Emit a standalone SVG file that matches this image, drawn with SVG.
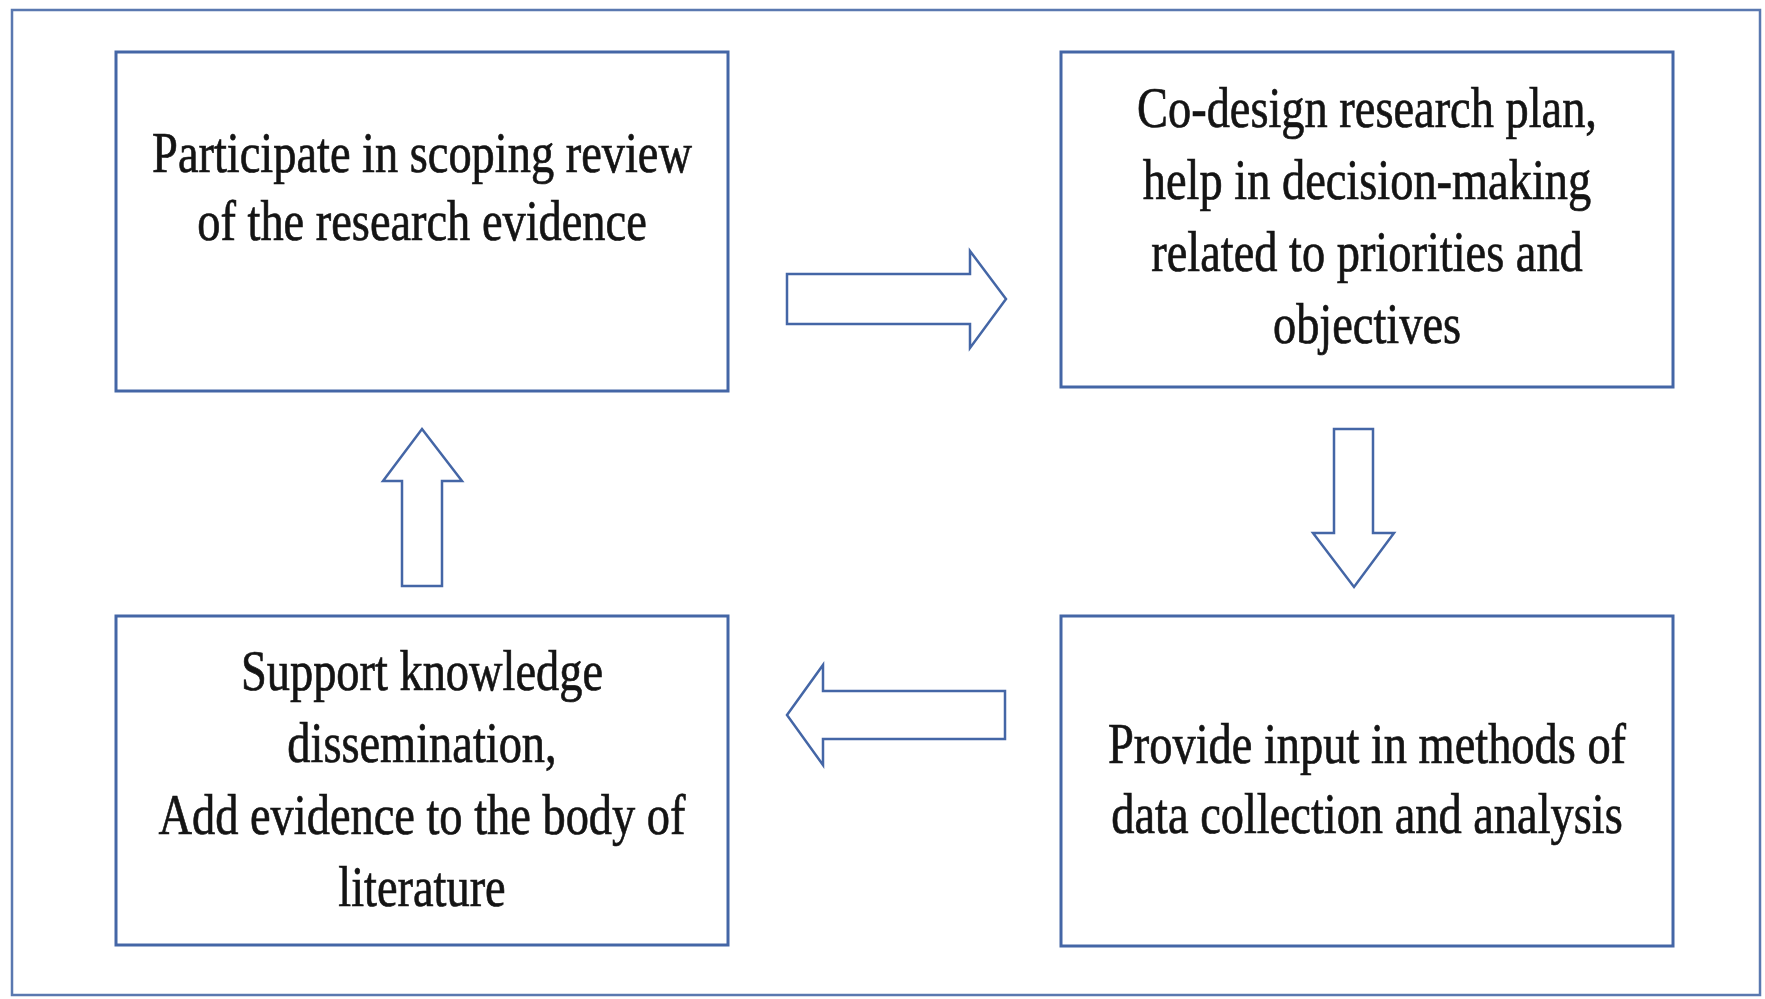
<svg xmlns="http://www.w3.org/2000/svg" width="1765" height="999" viewBox="0 0 1765 999">
<style>
.frame{fill:#ffffff;stroke:#5a78b0;stroke-width:2.5}
.box{fill:#ffffff;stroke:#4466a6;stroke-width:3}
.arrow{fill:#ffffff;stroke:#4466a6;stroke-width:2.5;stroke-linejoin:miter}
.lbl{font-family:"Liberation Serif","Times New Roman",serif;font-size:58px;fill:#141414;stroke:#141414;stroke-width:0.7;text-anchor:middle}
</style>
<rect width="1765" height="999" fill="#ffffff"/>
<rect class="frame" x="12" y="10" width="1748" height="985"/>
<g id="connectors">
<polygon class="arrow" points="787,274 970,274 970,251 1006,299 970,348 970,324 787,324"/>
<polygon class="arrow" points="1334,429 1373,429 1373,533 1394,533 1354,587 1313,533 1334,533"/>
<polygon class="arrow" points="787,715 823,665 823,691 1005,691 1005,739 823,739 823,765"/>
<polygon class="arrow" points="422,429 462,481 442,481 442,586 402,586 402,481 383,481"/>
</g>
<g id="node-scoping">
<rect class="box" x="116" y="52" width="612" height="339"/>
<text class="lbl" transform="matrix(0.8 0 0 1 422 0)"><tspan x="0" y="172">Participate in scoping review</tspan><tspan x="0" y="240">of the research evidence</tspan></text>
</g>
<g id="node-codesign">
<rect class="box" x="1061" y="52" width="612" height="335"/>
<text class="lbl" transform="matrix(0.8 0 0 1 1367 0)"><tspan x="0" y="127">Co-design research plan,</tspan><tspan x="0" y="199">help in decision-making</tspan><tspan x="0" y="271">related to priorities and</tspan><tspan x="0" y="343">objectives</tspan></text>
</g>
<g id="node-methods">
<rect class="box" x="1061" y="616" width="612" height="330"/>
<text class="lbl" transform="matrix(0.8 0 0 1 1367 0)"><tspan x="0" y="763">Provide input in methods of</tspan><tspan x="0" y="833">data collection and analysis</tspan></text>
</g>
<g id="node-dissemination">
<rect class="box" x="116" y="616" width="612" height="329"/>
<text class="lbl" transform="matrix(0.8 0 0 1 422 0)"><tspan x="0" y="690">Support knowledge</tspan><tspan x="0" y="762">dissemination,</tspan><tspan x="0" y="834">Add evidence to the body of</tspan><tspan x="0" y="906">literature</tspan></text>
</g>
</svg>
